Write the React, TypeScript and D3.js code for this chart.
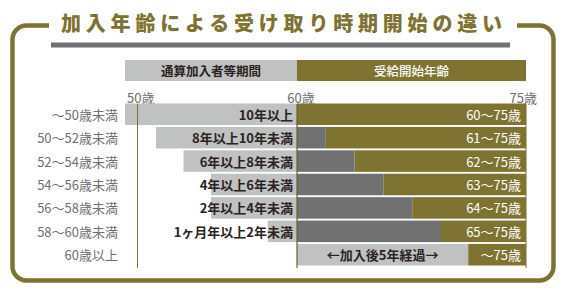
import * as d3 from 'd3';

// chart data
const rowLabels = ['～50歳未満', '50～52歳未満', '52～54歳未満', '54～56歳未満', '56～58歳未満', '58～60歳未満', '60歳以上'];
const periodLabels = ['10年以上', '8年以上10年未満', '6年以上8年未満', '4年以上6年未満', '2年以上4年未満', '1ヶ月年以上2年未満', ''];
// where the 通算加入者等期間 bar starts (age axis)
const periodStart = [50, 51.8, 53.4, 55, 55, 58.3, null];
// where the olive 受給開始 part begins
const startAge = [60, 61, 62, 63, 64, 65, 68.2];
const startLabels = ['60～75歳', '61～75歳', '62～75歳', '63～75歳', '64～75歳', '65～75歳', '～75歳'];
const waitLabel = '←加入後5年経過→';
const axisTicks = [50, 60, 75];
const headers = [
    { from: 50, to: 60, text: '通算加入者等期間' },
    { from: 60, to: 75, text: '受給開始年齢' },
];
const title = '加入年齢による受け取り時期開始の違い';

const OLIVE = '#7e7330';
const DARK = '#717171';
const LIGHT = '#c0c1c1';
const FONT = '"Noto Sans CJK JP", "Noto Sans", sans-serif';

const width = 567;
const height = 294;

const App = () => {
    const x = d3.scaleLinear().domain([50, 60, 65, 75]).range([125, 297, 441, 526]);
    const y = d3.scaleBand<string>().domain(rowLabels).range([103.5, 265.5]).paddingInner(0.08);
    const bw = y.bandwidth();
    const lineTop = 104;
    const lineBottom = 268;

    const framePath = 'M49,25.5 H26.5 A14,14 0 0 0 12.5,39.5 V266.5 A14,14 0 0 0 26.5,280.5 H539.5 A14,14 0 0 0 553.5,266.5 V39.5 A14,14 0 0 0 539.5,25.5 H517';

    return (
        <svg width={width} height={height} style={{ position: 'absolute', left: 0, top: 0 }} fontFamily={FONT}>
            <rect width={width} height={height} fill="#fff" />
            <path d={framePath} fill="none" stroke={OLIVE} strokeWidth={4.5} />
            <text x={61} y={22} fill={OLIVE} fontSize={20} fontWeight={900} letterSpacing={4.8} dominantBaseline="central">{title}</text>
            <rect x={51} y={42.5} width={459} height={5} fill={DARK} />

            {/* headers */}
            {headers.map((h, i) => (
                <g key={h.text}>
                    <rect x={x(h.from)} y={60} width={x(h.to) - x(h.from)} height={21} fill={i === 0 ? LIGHT : OLIVE} />
                    <text x={(x(h.from) + x(h.to)) / 2} y={70.5} textAnchor="middle" dominantBaseline="central"
                        fontSize={12.5} fontWeight={i === 0 ? 700 : 500} fill={i === 0 ? '#2b2321' : '#fff'}>{h.text}</text>
                </g>
            ))}

            {/* axis labels */}
            {axisTicks.map((t, i) => (
                <text key={t} x={x(t) + (i === 0 ? 2 : i === 1 ? 4 : 11)} y={97}
                    textAnchor={i === 0 ? 'start' : i === 1 ? 'middle' : 'end'} dominantBaseline="central"
                    fontSize={13} fill="#6e6e6e">{t}歳</text>
            ))}

            {/* rows */}
            {rowLabels.map((r, i) => {
                const y0 = y(r)!;
                const cy = y0 + bw / 2;
                const ps = periodStart[i];
                const last = i === rowLabels.length - 1;
                return (
                    <g key={r}>
                        <text x={118} y={cy} textAnchor="end" dominantBaseline="central" fontSize={13} fill="#6f6f6f">{r}</text>
                        {ps !== null && (
                            <rect x={x(ps)} y={y0} width={x(60) - x(ps)} height={bw} fill={LIGHT} />
                        )}
                        {startAge[i] > 60 && (
                            <rect x={x(60)} y={y0} width={x(startAge[i]) - x(60)} height={bw} fill={last ? LIGHT : DARK} />
                        )}
                        <rect x={x(startAge[i])} y={y0} width={x(75) - x(startAge[i])} height={bw} fill={OLIVE} />
                        {periodLabels[i] && (
                            <text x={x(60) - 4} y={cy} textAnchor="end" dominantBaseline="central" fontSize={13} fontWeight={700} fill="#2b2321">{periodLabels[i]}</text>
                        )}
                        {last && (
                            <text x={(x(60) + x(startAge[i])) / 2} y={cy} textAnchor="middle" dominantBaseline="central" fontSize={13} fontWeight={700} fill="#2b2321">{waitLabel}</text>
                        )}
                        <text x={x(75) - 5} y={cy} textAnchor="end" dominantBaseline="central" fontSize={13} fill="#fff">{startLabels[i]}</text>
                    </g>
                );
            })}

            {/* guide lines */}
            <line x1={137.5} x2={137.5} y1={lineTop} y2={lineBottom} stroke={OLIVE} strokeWidth={1} />
            <line x1={x(60)} x2={x(60)} y1={lineTop} y2={lineBottom} stroke="#6a6028" strokeWidth={1.2} />
            <line x1={x(75)} x2={x(75)} y1={lineTop} y2={lineBottom} stroke={OLIVE} strokeWidth={1} />
        </svg>
    );
};

export default App;
